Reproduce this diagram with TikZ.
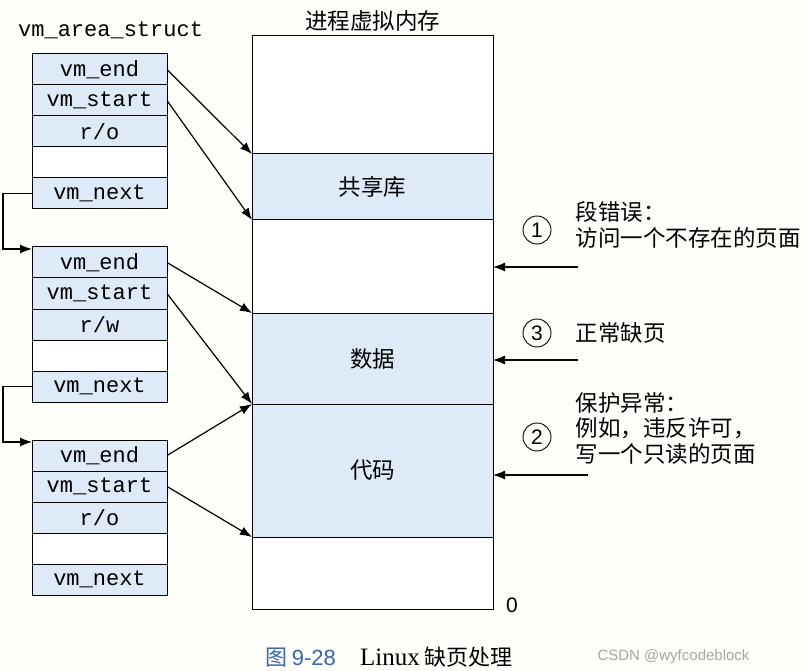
\documentclass[tikz,border=0pt]{standalone}
\usepackage{fontspec}
\setmainfont{Liberation Serif}
\setsansfont{Liberation Sans}
\setmonofont{Liberation Mono}
\newfontfamily\cjk{Noto Sans CJK SC}
\usetikzlibrary{arrows.meta, calc, positioning}

\definecolor{rowblue}{RGB}{222,234,248}
\definecolor{capblue}{RGB}{60,100,175}
\definecolor{paper}{RGB}{254,254,251}

\tikzset{
  field/.style={draw, line width=1pt, fill=rowblue, minimum width=135pt, minimum height=31pt, inner sep=0pt, outer sep=0pt, font=\fontsize{22}{24}\selectfont\ttfamily},
  blank/.style={field, fill=white},
  seg/.style={draw, line width=1pt, minimum width=241pt, inner sep=0pt, outer sep=0pt, font=\fontsize{22.5}{24}\selectfont\cjk},
  link/.style={-{Latex[length=12pt,width=9pt]}, line width=1.2pt},
  note/.style={anchor=west, align=left, font=\fontsize{22.5}{25.5}\selectfont\cjk},
  num/.style={circle, draw, line width=0.9pt, minimum size=28pt, inner sep=0pt, font=\fontsize{21}{22}\selectfont\sffamily}
}

\begin{document}
\begin{tikzpicture}[x=1pt, y=-1pt]
\fill[paper] (0,0) rectangle (809,671);
\useasboundingbox (0,0) rectangle (809,671);

\node[anchor=west, inner sep=0pt, font=\fontsize{22}{24}\selectfont\ttfamily] (vmlabel) at (18,30) {vm\_area\_struct};

% three vm_area_struct blocks
\begin{scope}[shift={(0,0)}]
\node[field] (s1end) at (99.5,69.5) {vm\_end};
\node[field, below=0pt of s1end] (s1start) {vm\_start};
\node[field, below=0pt of s1start] (s1perm) {r/o};
\node[blank, below=0pt of s1perm] (s1gap) {};
\node[field, below=0pt of s1gap] (s1next) {vm\_next};
\end{scope}
\begin{scope}[shift={(0,193)}]
\node[field] (s2end) at (99.5,69.5) {vm\_end};
\node[field, below=0pt of s2end] (s2start) {vm\_start};
\node[field, below=0pt of s2start] (s2perm) {r/w};
\node[blank, below=0pt of s2perm] (s2gap) {};
\node[field, below=0pt of s2gap] (s2next) {vm\_next};
\end{scope}
\begin{scope}[shift={(0,386)}]
\node[field] (s3end) at (99.5,69.5) {vm\_end};
\node[field, below=0pt of s3end] (s3start) {vm\_start};
\node[field, below=0pt of s3start] (s3perm) {r/o};
\node[blank, below=0pt of s3perm] (s3gap) {};
\node[field, below=0pt of s3gap] (s3next) {vm\_next};
\end{scope}

\draw[link] (s1next.west) -- ++(-29,0) |- ([yshift=-2pt]s2end.north west);
\draw[link] (s2next.west) -- ++(-29,0) |- ([yshift=-2pt]s3end.north west);

% process virtual memory
\node[seg, fill=white, minimum height=118pt] (vtop) at (372.5,95) {};
\node[seg, fill=rowblue, minimum height=66pt, below=0pt of vtop] (lib) {共享库};
\node[seg, fill=white, minimum height=93pt, below=0pt of lib] (vgap) {};
\node[seg, fill=rowblue, minimum height=91pt, below=0pt of vgap] (data) {数据};
\node[seg, fill=rowblue, minimum height=133pt, below=0pt of data] (code) {代码};
\node[seg, fill=white, minimum height=72pt, below=0pt of code] (vbot) {};
\node[font=\fontsize{22.5}{24}\selectfont\cjk, above=1pt of vtop] (vmtitle) {进程虚拟内存};
\node[font=\fontsize{21}{22}\selectfont\sffamily] (zero) at (512,605) {0};

\draw[link] (s1end.east) -- (lib.north west);
\draw[link] (s1start.east) -- (lib.south west);
\draw[link] (s2end.east) -- (data.north west);
\draw[link] (s2start.east) -- (data.south west);
\draw[link] (s3end.east) -- (code.north west);
\draw[link] (s3start.east) -- (code.south west);

% faults
\coordinate (f1) at (578,267);
\coordinate (f3) at (578,360);
\coordinate (f2) at (588,475);
\draw[link] (f1) -- (f1 -| vtop.east);
\draw[link] (f3) -- (f3 -| vtop.east);
\draw[link] (f2) -- (f2 -| vtop.east);

\node[num] (n1) at (537,230) {1};
\node[num] (n3) at (537,333) {3};
\node[num] (n2) at (537,437) {2};
\node[note] (t1) at (572,225) {段错误：\\访问一个不存在的页面};
\node[note] (t3) at (572,333) {正常缺页};
\node[note] (t2) at (572,428) {保护异常：\\例如，违反许可，\\写一个只读的页面};

% caption
\node[anchor=west, font=\fontsize{22}{24}\selectfont] (caption) at (262,657)
  {{\color{capblue}\cjk 图\hspace{0.2em}\sffamily 9-28}\hspace{1.1em}{\fontsize{25}{26}\selectfont Linux}\hspace{0.2em}{\cjk 缺页处理}};
\node[anchor=west, text=gray!70, font=\fontsize{15}{16}\selectfont\sffamily] (mark) at (594,657) {CSDN @wyfcodeblock};
\end{tikzpicture}
\end{document}
